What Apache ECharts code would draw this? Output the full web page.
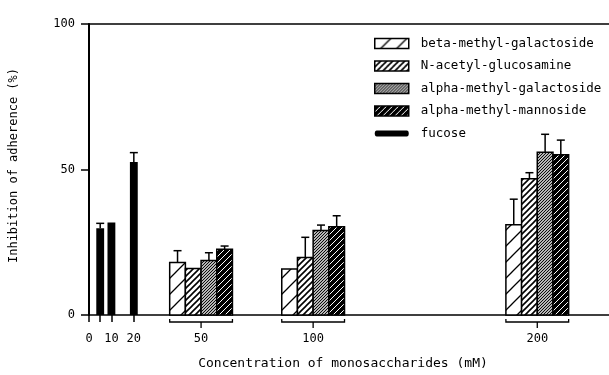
<!DOCTYPE html>
<html><head><meta charset="utf-8">
<script src="https://cdn.jsdelivr.net/npm/echarts@6/dist/echarts.min.js"></script>
<style>html,body{margin:0;padding:0;background:#fff}#c{width:609px;height:375px}</style>
</head><body><div id="c"></div>
<script>
// ---- data ----
const fucoseConc = [5, 10, 20];
const fucoseVal = [29.8, 31.8, 52.6];
const fucoseErr = [1.7, 0, 3.2];
const groupConc = [50, 100, 200];
const betaGalVal = [18.0, 15.8, 31.0];
const betaGalErr = [4.1, 0, 8.8];
const nAcGlcVal = [16.0, 19.8, 46.8];
const nAcGlcErr = [0, 6.9, 2.1];
const alphaGalVal = [18.7, 29.0, 55.9];
const alphaGalErr = [2.7, 1.9, 6.2];
const alphaManVal = [22.6, 30.3, 55.1];
const alphaManErr = [1.1, 3.8, 5.0];
const seriesNames = ['beta-methyl-galactoside', 'N-acetyl-glucosamine', 'alpha-methyl-galactoside', 'alpha-methyl-mannoside', 'fucose'];
const xTickValues = [0, 5, 10, 20];
const xLabelValues = [0, 10, 20, 50, 100, 200];

const FONT = '"DejaVu Sans Mono", "Liberation Mono", monospace';

function hatch(bg, fg, size, lw) {
  const c = document.createElement('canvas');
  c.width = size; c.height = size;
  const g = c.getContext('2d');
  g.fillStyle = bg; g.fillRect(0, 0, size, size);
  g.strokeStyle = fg; g.lineWidth = lw;
  g.beginPath();
  g.moveTo(0, size); g.lineTo(size, 0);
  g.moveTo(-size / 2, size / 2); g.lineTo(size / 2, -size / 2);
  g.moveTo(size / 2, size * 1.5); g.lineTo(size * 1.5, size / 2);
  g.stroke();
  return { image: c, repeat: 'repeat' };
}

const fills = [
  hatch('#fff', '#000', 16, 1.3),
  hatch('#fff', '#000', 6, 1.6),
  hatch('#fff', '#000', 3, 1.1),
  hatch('#000', '#fff', 6, 1.0),
  '#000'
];
const offsets = [-10.5, -3.5, 3.5, 10.5, 0];
const widths = [7, 7, 7, 7, 3.5];
const strokes = [1.5, 1.5, 1.5, 1.5, 0];

function barRenderer(i) {
  return function (params, api) {
    const x = api.value(0) + offsets[i];
    const v = api.value(1);
    const e = api.value(2);
    const w = widths[i];
    const p0 = api.coord([x - w / 2, 0]);
    const p1 = api.coord([x + w / 2, v]);
    const children = [{
      type: 'rect',
      shape: { x: p0[0], y: p1[1], width: p1[0] - p0[0], height: p0[1] - p1[1] },
      style: { fill: fills[i], stroke: strokes[i] ? '#000' : null, lineWidth: strokes[i] }
    }];
    if (e > 0) {
      const a = api.coord([x, v]);
      const b = api.coord([x, v + e]);
      children.push({ type: 'line', shape: { x1: a[0], y1: a[1], x2: b[0], y2: b[1] }, style: { stroke: '#000', lineWidth: 1.5 } });
      children.push({ type: 'line', shape: { x1: b[0] - 4, y1: b[1], x2: b[0] + 4, y2: b[1] }, style: { stroke: '#000', lineWidth: 1.5 } });
    }
    return { type: 'group', children: children };
  };
}

function zip(xs, vs, es) { return xs.map((x, k) => [x, vs[k], es[k]]); }

const barData = [
  zip(groupConc, betaGalVal, betaGalErr),
  zip(groupConc, nAcGlcVal, nAcGlcErr),
  zip(groupConc, alphaGalVal, alphaGalErr),
  zip(groupConc, alphaManVal, alphaManErr),
  zip(fucoseConc, fucoseVal, fucoseErr)
];

const series = barData.map((d, i) => ({
  type: 'custom',
  name: seriesNames[i],
  data: d,
  encode: { x: 0, y: 1 },
  itemStyle: { color: fills[i] },
  renderItem: barRenderer(i),
  silent: true
}));

series.push({
  type: 'custom',
  name: 'brackets',
  data: groupConc.map(x => [x, 0]),
  encode: { x: 0, y: 1 },
  silent: true,
  clip: false,
  renderItem: function (params, api) {
    const x = api.value(0);
    const l = api.coord([x - 14, 0]);
    const r = api.coord([x + 14, 0]);
    const c = api.coord([x, 0]);
    const y0 = c[1];
    return {
      type: 'group',
      children: [
        { type: 'polyline', shape: { points: [[l[0], y0 + 4], [l[0], y0 + 7], [r[0], y0 + 7], [r[0], y0 + 4]] }, style: { stroke: '#000', lineWidth: 1.3, fill: null } },
        { type: 'line', shape: { x1: c[0], y1: y0 + 7, x2: c[0], y2: y0 + 13 }, style: { stroke: '#000', lineWidth: 1.3 } }
      ]
    };
  }
});

const legendData = seriesNames.map((n, i) => i < 4 ? {
  name: n, icon: 'rect',
  itemStyle: { color: fills[i], borderColor: '#000', borderWidth: 1.5 }
} : {
  name: n,
  icon: 'path://M0,0M34,10M2,2Q0,2 0,5Q0,8 2,8L32,8Q34,8 34,5Q34,2 32,2Z',
  itemStyle: { color: '#000', borderWidth: 0 }
});

const chart = echarts.init(document.getElementById('c'), null, { renderer: 'canvas' });
chart.setOption({
  animation: false,
  backgroundColor: '#fff',
  grid: { left: 88, right: 0, top: 24, bottom: 60 },
  legend: {
    data: legendData,
    orient: 'vertical',
    left: 369, top: 32,
    itemWidth: 34, itemHeight: 10, itemGap: 9.5,
    selectedMode: false,
    textStyle: { fontFamily: FONT, fontSize: 12.5, color: '#000', padding: [0, 0, 0, 7], lineHeight: 13 }
  },
  xAxis: [{
    type: 'value', min: 0, max: 232,
    axisLine: { show: true, lineStyle: { color: '#000', width: 1.5 } },
    axisTick: { show: true, customValues: xTickValues, length: 7, lineStyle: { color: '#000', width: 1.5 } },
    axisLabel: { customValues: xLabelValues, margin: 18, color: '#000', fontFamily: FONT, fontSize: 12 },
    splitLine: { show: false },
    name: 'Concentration of monosaccharides (mM)',
    nameLocation: 'middle', nameGap: 42,
    nameTextStyle: { fontFamily: FONT, fontSize: 13, color: '#000', padding: [0, 12, 0, 0] }
  }, {
    type: 'value', position: 'top', min: 0, max: 232,
    axisLine: { show: true, lineStyle: { color: '#000', width: 1.5 } },
    axisTick: { show: false }, axisLabel: { show: false }, splitLine: { show: false }
  }],
  yAxis: {
    type: 'value', min: 0, max: 100, interval: 50,
    axisLine: { show: true, lineStyle: { color: '#000', width: 2 } },
    axisTick: { show: true, length: 8, lineStyle: { color: '#000', width: 1.5 } },
    axisLabel: { margin: 14, color: '#000', fontFamily: FONT, fontSize: 12 },
    splitLine: { show: false },
    name: 'Inhibition of adherence (%)',
    nameLocation: 'middle', nameGap: 69,
    nameTextStyle: { fontFamily: FONT, fontSize: 12, color: '#000', padding: [0, 0, 0, 8] }
  },
  series: series
});
</script></body></html>
